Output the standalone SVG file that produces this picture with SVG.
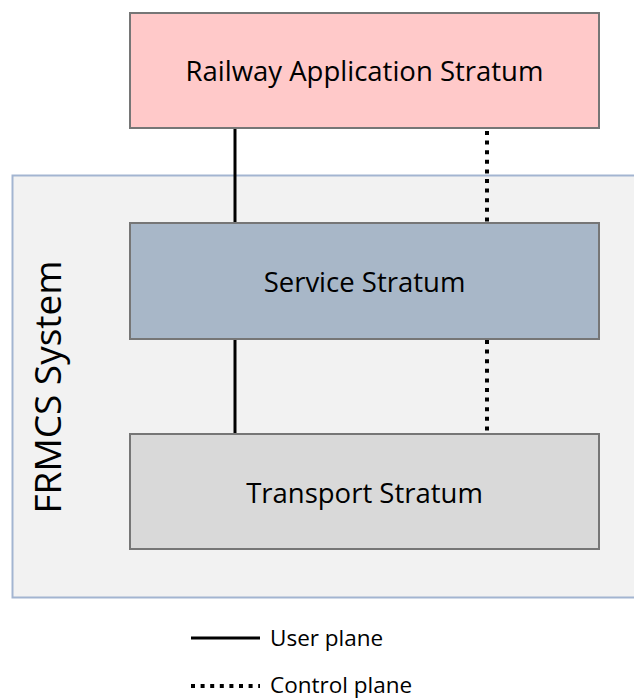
<svg xmlns="http://www.w3.org/2000/svg" width="634" height="700" viewBox="0 0 634 700">
<style>
.box{stroke:#767676;stroke-width:2}
.lbl{font-family:"Open Sans","Liberation Sans",sans-serif;font-size:27.5px;fill:#000;text-anchor:middle}
.leg{font-family:"Open Sans","Liberation Sans",sans-serif;font-size:22.5px;fill:#000}
.up{stroke:#000;stroke-width:3;fill:none}
.cp{stroke:#000;stroke-width:4;stroke-dasharray:4 5.6;fill:none}
</style>
<rect width="634" height="700" fill="#fff"/>
<g id="frmcs-system">
<rect x="12.5" y="175.5" width="630" height="422" fill="#f2f2f2" stroke="#a3b5d1" stroke-width="2"/>
<text class="lbl" transform="translate(61,387) rotate(-90)" style="font-size:37px">FRMCS System</text>
</g>
<g id="railway-application-stratum">
<rect class="box" x="130" y="13" width="469" height="115" fill="#ffc9c9"/>
<text class="lbl" x="364.5" y="81">Railway Application Stratum</text>
</g>
<g id="service-stratum">
<rect class="box" x="130" y="223" width="469" height="116" fill="#a8b7c8"/>
<text class="lbl" x="364.5" y="292">Service Stratum</text>
</g>
<g id="transport-stratum">
<rect class="box" x="130" y="434" width="469" height="115" fill="#d9d9d9"/>
<text class="lbl" x="364.5" y="503">Transport Stratum</text>
</g>
<g id="connectors">
<line class="up" x1="235" y1="129" x2="235" y2="222"/>
<line class="up" x1="235" y1="340" x2="235" y2="433"/>
<line class="cp" x1="487" y1="131" x2="487" y2="222"/>
<line class="cp" x1="487" y1="340" x2="487" y2="433"/>
</g>
<g id="legend">
<line class="up" x1="191" y1="638" x2="260" y2="638"/>
<text class="leg" x="270" y="646">User plane</text>
<line stroke="#000" stroke-width="4" stroke-dasharray="4 5.6" x1="191" y1="686" x2="260" y2="686"/>
<text class="leg" x="270" y="693">Control plane</text>
</g>
</svg>
